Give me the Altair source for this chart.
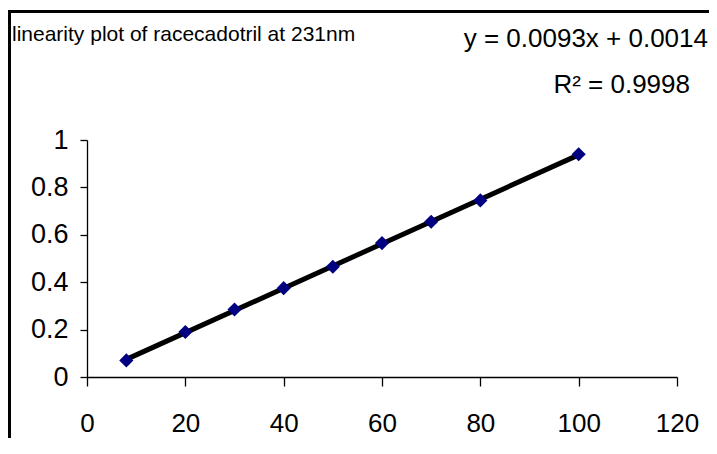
import altair as alt
import pandas as pd

# data
conc = [8, 20, 30, 40, 50, 60, 70, 80, 100]
absorbance = [0.07, 0.19, 0.285, 0.375, 0.465, 0.565, 0.655, 0.745, 0.94]
x_ticks = [0, 20, 40, 60, 80, 100, 120]
y_ticks = [0, 0.2, 0.4, 0.6, 0.8, 1]
title_text = "linearity plot of racecadotril at 231nm"
eq_text = "y = 0.0093x + 0.0014"
r2_text = "R\u00b2 = 0.9998"

df = pd.DataFrame({"x": conc, "y": absorbance})

FONT = "Liberation Sans, Arial"

xs = alt.Scale(domain=[0, 120], nice=False, zero=False)
ys = alt.Scale(domain=[0, 1], nice=False)

base = alt.Chart(df)

trend = base.transform_regression("x", "y", method="linear", extent=[8, 100]).mark_line(
    color="black", strokeWidth=5
).encode(
    x=alt.X("x:Q", scale=xs, axis=alt.Axis(values=x_ticks, title=None, grid=False, labelFlush=False,
             domainColor="black", tickColor="black", tickSize=9, domainWidth=1.3, tickWidth=1.3,
             labelFont=FONT, labelFontSize=26, labelColor="black", labelPadding=24)),
    y=alt.Y("y:Q", scale=ys, axis=alt.Axis(values=y_ticks, title=None, grid=False, format=".1~f",
             labelFlush=False,
             domainColor="black", tickColor="black", tickSize=7, domainWidth=1.3, tickWidth=1.3,
             labelFont=FONT, labelFontSize=27, labelColor="black", labelPadding=12)),
)

points = base.mark_point(shape="diamond", filled=True, color="#000080", size=200, opacity=1).encode(
    x=alt.X("x:Q", scale=xs), y=alt.Y("y:Q", scale=ys)
)

title = alt.Chart(pd.DataFrame({"t": [title_text]})).mark_text(
    align="left", baseline="alphabetic", font=FONT, fontSize=21, color="black"
).encode(text="t:N", x=alt.value(-75), y=alt.value(-99))

eq = alt.Chart(pd.DataFrame({"t": [eq_text]})).mark_text(
    align="right", baseline="alphabetic", font=FONT, fontSize=26, color="black"
).encode(text="t:N", x=alt.value(621), y=alt.value(-93))

r2 = alt.Chart(pd.DataFrame({"t": [r2_text]})).mark_text(
    align="right", baseline="alphabetic", font=FONT, fontSize=26, color="black"
).encode(text="t:N", x=alt.value(603), y=alt.value(-47))

top_line = alt.Chart(pd.DataFrame({"a": [0]})).mark_rule(color="black", strokeWidth=3).encode(
    x=alt.value(-78), x2=alt.value(622), y=alt.value(-128.5)
)
left_line = alt.Chart(pd.DataFrame({"a": [0]})).mark_rule(color="black", strokeWidth=3).encode(
    x=alt.value(-77.5), y=alt.value(-130), y2=alt.value(298)
)

chart = alt.layer(top_line, left_line, trend, points, title, eq, r2).properties(
    width=590, height=237,
    autosize=alt.AutoSizeParams(type="none"),
    padding={"left": 79, "top": 132, "right": 32, "bottom": 61},
    background="white",
).configure_view(stroke=None)

chart.save("out.html", embed_options={"renderer": "svg", "actions": False})
